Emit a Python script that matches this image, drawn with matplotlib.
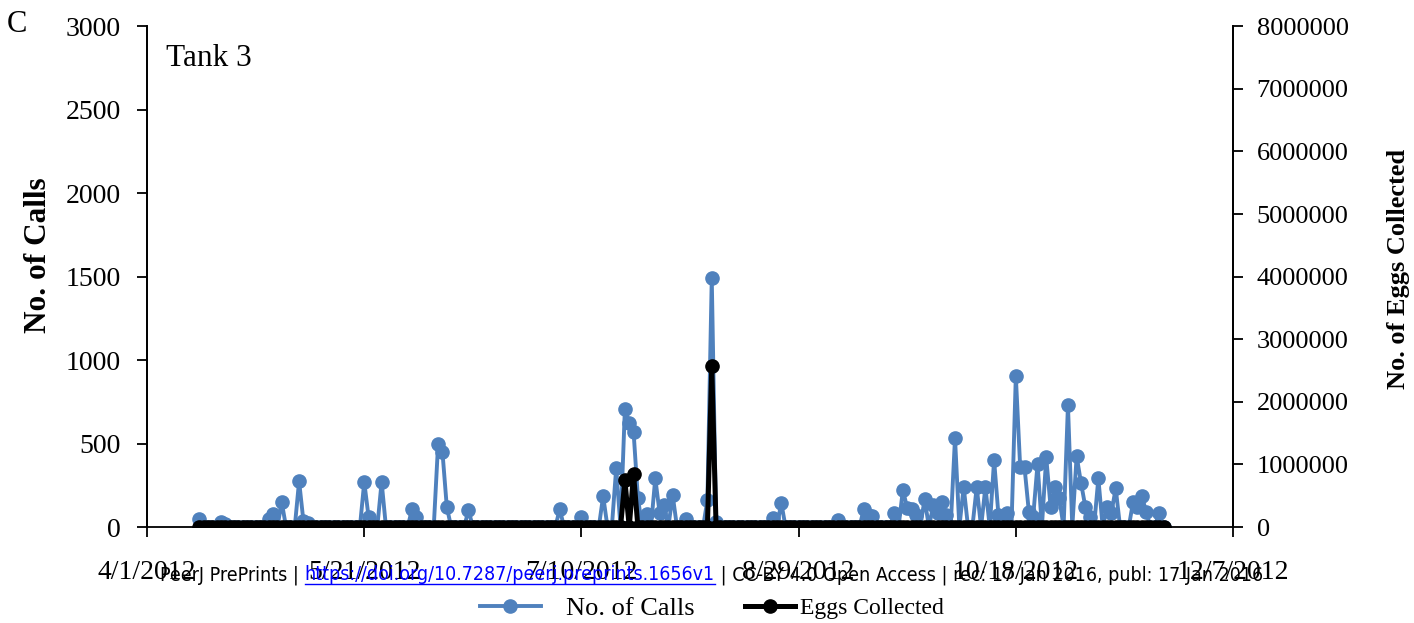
import numpy as np
import pandas as pd
import matplotlib
matplotlib.use("Agg")
import matplotlib.pyplot as plt
import matplotlib.dates as mdates

plt.rcParams['font.family'] = ['Liberation Serif', 'DejaVu Serif']

# daily record, Tank 3 (days not listed below had no calls / no eggs)
start_date = '2012-04-13'
end_date = '2012-11-21'

call_dates = ['2012-04-13', '2012-04-18', '2012-04-19', '2012-04-29', '2012-04-30',
              '2012-05-02', '2012-05-06', '2012-05-07', '2012-05-08', '2012-05-21',
              '2012-05-22', '2012-05-25', '2012-06-01', '2012-06-02', '2012-06-07',
              '2012-06-08', '2012-06-09', '2012-06-14', '2012-07-05', '2012-07-10',
              '2012-07-15', '2012-07-18', '2012-07-20', '2012-07-21', '2012-07-22',
              '2012-07-23', '2012-07-25', '2012-07-27', '2012-07-28', '2012-07-29',
              '2012-07-31', '2012-08-03', '2012-08-08', '2012-08-09', '2012-08-10',
              '2012-08-23', '2012-08-25', '2012-09-07', '2012-09-13', '2012-09-14',
              '2012-09-15', '2012-09-20', '2012-09-22', '2012-09-23', '2012-09-24',
              '2012-09-25', '2012-09-27', '2012-09-29', '2012-09-30', '2012-10-01',
              '2012-10-02', '2012-10-04', '2012-10-06', '2012-10-09', '2012-10-11',
              '2012-10-13', '2012-10-14', '2012-10-16', '2012-10-18', '2012-10-19',
              '2012-10-20', '2012-10-21', '2012-10-22', '2012-10-23', '2012-10-25',
              '2012-10-26', '2012-10-27', '2012-10-28', '2012-10-30', '2012-11-01',
              '2012-11-02', '2012-11-03', '2012-11-04', '2012-11-06', '2012-11-08',
              '2012-11-09', '2012-11-10', '2012-11-14', '2012-11-15', '2012-11-16',
              '2012-11-17', '2012-11-20']
call_counts = [50, 30, 20, 50, 80,
               150, 275, 35, 25, 270,
               60, 270, 108, 60, 498,
               451, 122, 102, 108, 62,
               186, 353, 710, 622, 571,
               174, 78, 293, 84, 132,
               192, 48, 162, 1491, 30,
               56, 146, 42, 108, 72,
               68, 86, 222, 114, 108,
               72, 168, 132, 86, 152,
               72, 535, 240, 240, 240,
               402, 72, 86, 906, 361,
               358, 92, 62, 378, 418,
               122, 238, 174, 731, 425,
               266, 122, 62, 292, 122,
               86, 232, 152, 122, 186,
               92, 86]

egg_dates = ['2012-07-20', '2012-07-22', '2012-08-09']
egg_counts = [750000, 846000, 2571000]

days = pd.date_range(start_date, end_date, freq='D')
calls = pd.Series(0.0, index=days)
calls[pd.to_datetime(call_dates)] = call_counts
eggs = pd.Series(0.0, index=days)
eggs[pd.to_datetime(egg_dates)] = egg_counts

fig = plt.figure(figsize=(14.14, 6.23), dpi=100)
ax = fig.add_axes([0.104, 0.154, 0.768, 0.804])
ax2 = ax.twinx()

blue = '#4F81BD'
l1, = ax.plot(calls.index, calls.values, '-o', color=blue, lw=2.8,
              markersize=9.5, label='No. of Calls')
l2, = ax2.plot(eggs.index, eggs.values, '-o', color='black', lw=3.6,
               markersize=9.5, label='Eggs Collected')

ax.set_xlim(pd.Timestamp('2012-04-01'), pd.Timestamp('2012-12-07'))
ax.set_xticks(pd.date_range('2012-04-01', '2012-12-07', freq='50D'))
ax.xaxis.set_major_formatter(
    plt.FuncFormatter(lambda v, p: '{0.month}/{0.day}/{0.year}'.format(mdates.num2date(v))))
ax.set_ylim(0, 3000)
ax.set_yticks(np.arange(0, 3001, 500))
ax2.set_ylim(0, 8000000)
ax2.set_yticks(np.arange(0, 8000001, 1000000))
ax2.yaxis.set_major_formatter(plt.FuncFormatter(lambda v, p: '%d' % v))

for a in (ax, ax2):
    a.spines['top'].set_visible(False)
    a.tick_params(direction='out', length=7, width=1.3)
    for s in a.spines.values():
        s.set_linewidth(1.3)
ax2.spines['bottom'].set_visible(False)
ax.tick_params(axis='y', labelsize=20, pad=12)
ax.tick_params(axis='x', labelsize=20, pad=17)
ax2.tick_params(axis='y', labelsize=19, pad=10)

ax.set_ylabel('No. of Calls', fontsize=22.5, fontweight='bold', va='center')
ax.yaxis.set_label_coords(-0.1004, 0.543)
ax2.set_ylabel('No. of Eggs Collected', fontsize=19, fontweight='bold', va='center')
ax2.yaxis.set_label_coords(1.152, 0.515)

ax.text(0.017, 0.935, 'Tank 3', transform=ax.transAxes, fontsize=22.5, va='center')
fig.text(0.005, 0.96, 'C', fontsize=22, va='center')

# two separate legend entries, spaced like the original layout
fig.legend([l1], ['No. of Calls'], loc='center left',
           bbox_to_anchor=(480 / 1414, 15 / 623), frameon=False, fontsize=19,
           handlelength=2.3, handletextpad=0.95, borderpad=0, borderaxespad=0)
fig.legend([l2], ['Eggs Collected'], loc='center left',
           bbox_to_anchor=(745 / 1414, 15 / 623), frameon=False, fontsize=17,
           handlelength=2.1, handletextpad=0.25, borderpad=0, borderaxespad=0)

# preprint banner across the date labels
fig.canvas.draw()
r = fig.canvas.get_renderer()
parts = [('PeerJ PrePrints | ', 'black', False),
         ('https://doi.org/10.7287/peerj.preprints.1656v1', 'blue', True),
         (' | CC-BY 4.0 Open Access | rec: 17 Jan 2016, publ: 17 Jan 2016', 'black', False)]
x0 = 160
ypix = 623 - 575
for txt, col, underline in parts:
    t = fig.text(x0 / 1414, ypix / 623, txt, color=col, fontsize=14.0,
                 family='DejaVu Sans', stretch='condensed', va='center', ha='left')
    bb = t.get_window_extent(r)
    if underline:
        fig.add_artist(plt.Line2D([bb.x0 / 1414, bb.x1 / 1414],
                                  [(bb.y0 + 1) / 623, (bb.y0 + 1) / 623],
                                  color=col, lw=1))
    x0 = bb.x1

fig.savefig('out.png', dpi=100)
